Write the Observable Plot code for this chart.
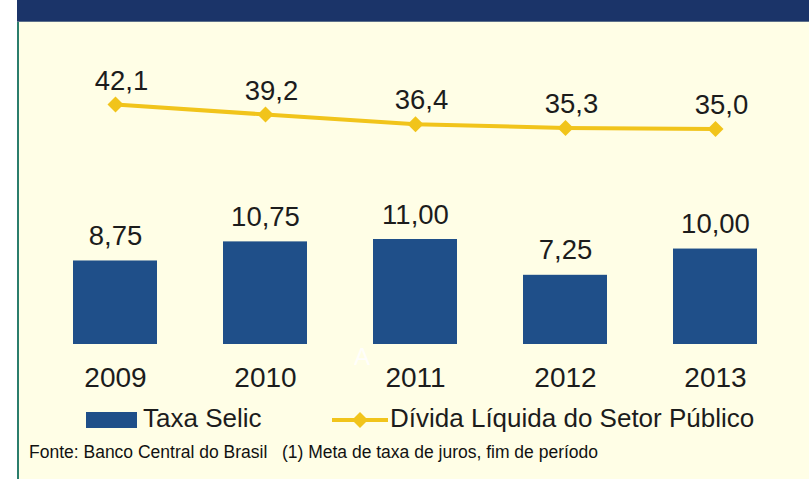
<!DOCTYPE html>
<html>
<head>
<meta charset="utf-8">
<script src="https://cdn.jsdelivr.net/npm/d3@7"></script>
<script src="https://cdn.jsdelivr.net/npm/@observablehq/plot@0.6"></script>
<style>
  html, body { margin: 0; padding: 0; background: #ffffff; }
  #page { position: relative; width: 809px; height: 479px; overflow: hidden; background: #ffffff; font-family: "Liberation Sans", Arial, sans-serif; color: #1c1c1c; }
  #frame { position: absolute; left: 17px; top: 0; width: 792px; height: 479px; background: #FFFEE6; border-left: 2px solid #2b7d6c; box-sizing: border-box; }
  #band { position: absolute; left: 17px; top: 0; width: 792px; height: 22px; background: #1B3469; border-bottom: 1px solid #5b6f8a; box-sizing: border-box; }
  .layer { position: absolute; left: 0; top: 0; }
  #legend { position: absolute; left: 0; top: 0; width: 809px; height: 479px; pointer-events: none; }
  .lg-text { position: absolute; font-size: 26px; line-height: 1; white-space: nowrap; color: #1c1c1c; }
  #caption { position: absolute; left: 29px; top: 442px; font-size: 17.5px; white-space: nowrap; color: #111; }
  #mark-a { position: absolute; left: 354px; top: 343px; font-size: 24px; color: #ffffff; opacity: 0.85; }
</style>
</head>
<body>
<div id="page">
  <div id="frame"></div>
  <div id="band"></div>
  <div id="mark-a">A</div>
  <div id="bars" class="layer"></div>
  <div id="line" class="layer"></div>
  <div id="legend">
    <div style="position:absolute;left:86px;top:412px;width:51px;height:16px;background:#1F4F89;"></div>
    <div class="lg-text" id="lg1" style="left:143px;top:405px;"></div>
    <svg style="position:absolute;left:328px;top:408px;" width="64" height="24">
      <line x1="4" y1="12" x2="60" y2="12" stroke="#F1C41B" stroke-width="4"/>
      <path d="M32,4 L40,12 L32,20 L24,12 Z" fill="#F1C41B"/>
    </svg>
    <div class="lg-text" id="lg2" style="left:390px;top:405px;"></div>
  </div>
  <div id="caption"></div>
</div>
<script>
const years = ["2009", "2010", "2011", "2012", "2013"];
const selic = [8.75, 10.75, 11.00, 7.25, 10.00];
const divida = [42.1, 39.2, 36.4, 35.3, 35.0];
const seriesNames = ["Taxa Selic", "Dívida Líquida do Setor Público"];
const captionText = "Fonte: Banco Central do Brasil\u00a0\u00a0\u00a0(1) Meta de taxa de juros, fim de período";

const fmt = (v, d) => v.toFixed(d).replace(".", ",");
const barData = years.map((y, i) => ({year: y, value: selic[i]}));
const lineData = years.map((y, i) => ({year: y, value: divida[i]}));

const W = 809, H = 479;
const xScale = {domain: years, range: [40, 790], paddingInner: 0.44, paddingOuter: 0.22};
const font = "Liberation Sans, Arial, sans-serif";

const bars = Plot.plot({
  width: W, height: H,
  marginTop: 0, marginLeft: 0, marginRight: 0, marginBottom: H - 344,
  style: {background: "transparent", fontFamily: font, overflow: "visible"},
  x: {...xScale, label: null},
  y: {domain: [0, 11], range: [344, 239], axis: null},
  marks: [
    Plot.barY(barData, {x: "year", y: "value", fill: "#1F4F89"}),
    Plot.text(barData, {x: "year", y: "value", text: d => fmt(d.value, 2), lineAnchor: "bottom", dy: -16, fontSize: 27.5, fill: "#1c1c1c"}),
    Plot.axisX({tickSize: 0, tickPadding: 23, fontSize: 28, label: null, color: "#1c1c1c"})
  ]
});
document.getElementById("bars").appendChild(bars);

const line = Plot.plot({
  width: W, height: H,
  margin: 0,
  style: {background: "transparent", fontFamily: font, overflow: "visible"},
  x: {...xScale, axis: null},
  y: {domain: [35, 42.1], range: [128.5, 104], axis: null},
  marks: [
    Plot.line(lineData, {x: "year", y: "value", stroke: "#F1C41B", strokeWidth: 4}),
    Plot.dot(lineData, {x: "year", y: "value", symbol: "diamond2", r: 7.2, fill: "#F1C41B"}),
    Plot.text(lineData, {x: "year", y: "value", text: d => fmt(d.value, 1), lineAnchor: "bottom", dy: -15, dx: 6, fontSize: 27.5, fill: "#1c1c1c"})
  ]
});
document.getElementById("line").appendChild(line);

document.getElementById("lg1").textContent = seriesNames[0];
document.getElementById("lg2").textContent = seriesNames[1];
document.getElementById("caption").textContent = captionText;
</script>
</body>
</html>
